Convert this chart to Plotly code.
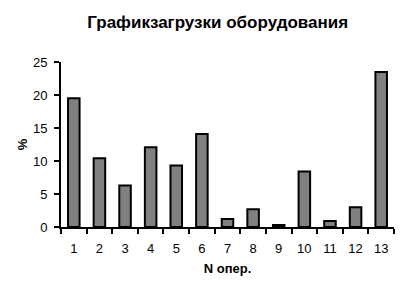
import plotly.graph_objects as go

categories = [str(i) for i in range(1, 14)]
values = [19.5, 10.4, 6.3, 12.1, 9.3, 14.1, 1.2, 2.7, 0.3, 8.4, 0.9, 3.0, 23.5]
y_ticks = [0, 5, 10, 15, 20, 25]

fig = go.Figure(go.Bar(
    x=categories, y=values,
    marker=dict(color="#808080", line=dict(color="black", width=2)),
    width=0.45,
))

fig.update_layout(
    width=407, height=292,
    margin=dict(l=61, r=13, t=62, b=65),
    paper_bgcolor="white", plot_bgcolor="white",
    font=dict(family="Liberation Sans, Arial, sans-serif", size=13, color="black"),
    title=dict(text="<b>Графикзагрузки оборудования</b>", x=0.535, xanchor="center",
               y=0.925, yanchor="middle", font=dict(size=17)),
    showlegend=False,
    xaxis=dict(type="category", tickson="boundaries", ticks="outside", ticklen=5,
               tickwidth=2, tickcolor="black", showline=True, linecolor="black",
               linewidth=2, showgrid=False, ticklabelstandoff=8,
               title=dict(text="<b>N опер.</b>", standoff=9, font=dict(size=13))),
    yaxis=dict(range=[0, 25], tickvals=y_ticks, ticks="outside", ticklen=5,
               tickwidth=2, tickcolor="black", showline=True, linecolor="black",
               linewidth=2, showgrid=False, zeroline=False, ticklabelstandoff=4,
               title=dict(text="<b>%</b>", standoff=2, font=dict(size=13))),
)

fig.write_html("out.html")
